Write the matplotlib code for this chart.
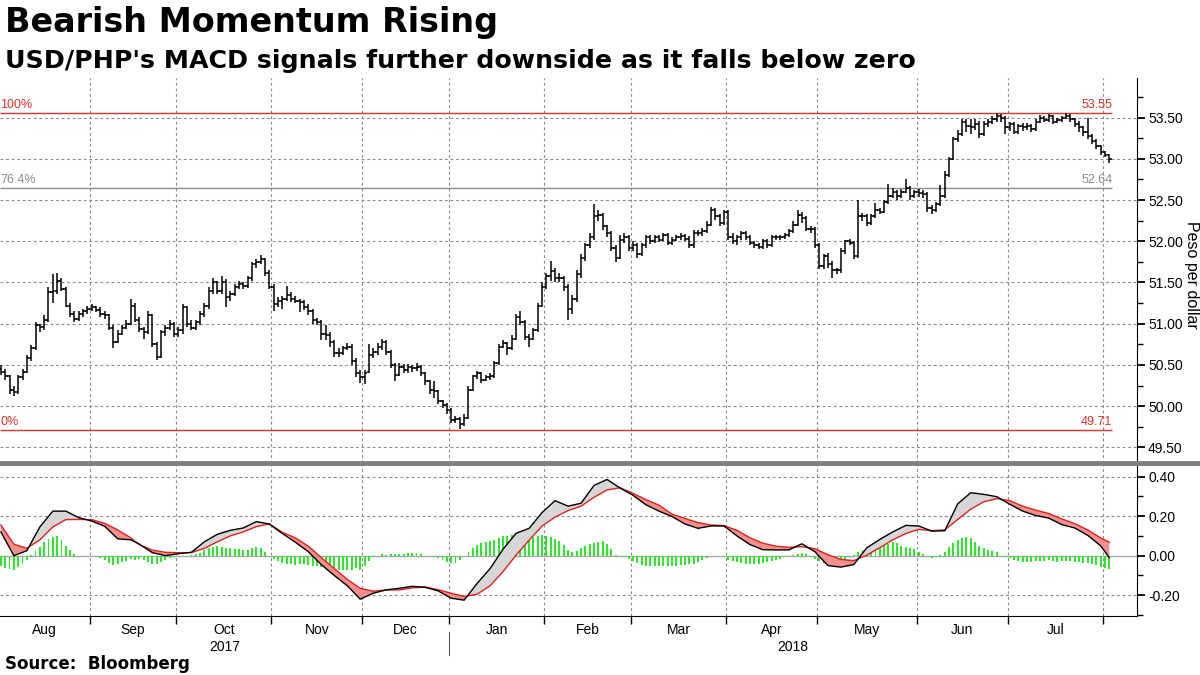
import numpy as np
import pandas as pd
import matplotlib
matplotlib.use("Agg")
import matplotlib.pyplot as plt
from matplotlib.lines import Line2D
from matplotlib.ticker import MultipleLocator, FormatStrFormatter

plt.rcParams['font.family'] = ['Liberation Sans', 'DejaVu Sans']
TITLE_FONT = ['DejaVu Sans']

# ---------------- data ----------------
start_date = '2017-08-03'
end_date = '2018-08-02'
holidays = ['2017-09-04', '2017-11-23', '2017-12-25', '2018-01-01']

closes = [
    50.42, 50.36, 50.20, 50.17, 50.35, 50.42, 50.58, 50.70, 50.98, 50.96, 51.05, 51.38, 51.40, 51.52, 51.42, 51.22, 51.12, 51.06, 51.12, 51.15, 51.18,
    51.20, 51.17, 51.12, 51.10, 50.95, 50.78, 50.88, 50.95, 51.00, 51.22, 51.05, 50.93, 50.90, 51.10, 50.75, 50.60, 50.90, 50.95, 51.00, 50.88,
    50.92, 51.20, 51.00, 50.95, 51.02, 51.12, 51.22, 51.40, 51.50, 51.40, 51.50, 51.32, 51.36, 51.45, 51.48, 51.46, 51.55, 51.72, 51.75, 51.78, 51.62, 51.45,
    51.24, 51.28, 51.30, 51.35, 51.30, 51.28, 51.26, 51.20, 51.15, 51.04, 51.02, 50.88, 50.86, 50.78, 50.65, 50.65, 50.70, 50.72, 50.55, 50.40, 50.35,
    50.40, 50.62, 50.66, 50.72, 50.78, 50.66, 50.50, 50.38, 50.48, 50.44, 50.48, 50.46, 50.48, 50.40, 50.30, 50.20, 50.18, 50.06, 50.02, 49.95,
    49.83, 49.84, 49.78, 49.86, 50.20, 50.36, 50.40, 50.32, 50.35, 50.36, 50.52, 50.72, 50.76, 50.70, 50.82, 51.08, 51.02, 50.84, 50.82, 50.92, 51.22, 51.45,
    51.58, 51.64, 51.55, 51.56, 51.45, 51.18, 51.30, 51.60, 51.80, 51.95, 52.05, 52.30, 52.32, 52.18, 52.10, 51.92, 51.80, 52.02, 52.05, 51.92,
    51.95, 51.85, 51.95, 52.05, 52.00, 52.05, 52.02, 52.08, 51.98, 52.02, 52.05, 52.06, 52.03, 51.95, 52.10, 52.10, 52.12, 52.20, 52.38, 52.30, 52.22, 52.35,
    52.05, 52.00, 52.05, 52.10, 52.05, 51.98, 51.95, 51.93, 52.00, 51.95, 52.05, 52.05, 52.05, 52.08, 52.12, 52.20, 52.32, 52.28, 52.15, 52.15, 51.95,
    51.70, 51.82, 51.72, 51.65, 51.65, 51.88, 52.00, 51.98, 51.82, 52.30, 52.30, 52.22, 52.30, 52.38, 52.36, 52.48, 52.55, 52.60, 52.55, 52.60, 52.65, 52.55, 52.60,
    52.58, 52.57, 52.40, 52.38, 52.45, 52.55, 52.80, 53.00, 53.24, 53.30, 53.45, 53.40, 53.38, 53.42, 53.30, 53.42, 53.45, 53.48, 53.52, 53.50, 53.38,
    53.42, 53.33, 53.40, 53.38, 53.40, 53.36, 53.45, 53.50, 53.47, 53.52, 53.45, 53.47, 53.50, 53.52, 53.48, 53.42, 53.38, 53.32, 53.28, 53.22, 53.15, 53.08,
    53.05, 53.00,
]

opens = [
    50.45, 50.42, 50.36, 50.20, 50.17, 50.35, 50.42, 50.58, 50.70, 50.98, 50.96, 51.05, 51.38, 51.40, 51.52, 51.42, 51.22, 51.12, 51.06, 51.12, 51.15,
    51.18, 51.20, 51.17, 51.12, 51.10, 50.95, 50.78, 50.88, 50.95, 51.00, 51.22, 51.05, 50.93, 50.90, 51.10, 50.75, 50.60, 50.90, 50.95, 51.00,
    50.88, 50.92, 51.20, 51.00, 50.95, 51.02, 51.12, 51.22, 51.40, 51.50, 51.40, 51.50, 51.32, 51.36, 51.45, 51.48, 51.46, 51.55, 51.72, 51.75, 51.78, 51.62,
    51.45, 51.24, 51.28, 51.30, 51.35, 51.30, 51.28, 51.26, 51.20, 51.15, 51.04, 51.02, 50.88, 50.86, 50.78, 50.65, 50.65, 50.70, 50.72, 50.55, 50.40,
    50.35, 50.42, 50.62, 50.66, 50.72, 50.78, 50.66, 50.50, 50.38, 50.48, 50.44, 50.48, 50.46, 50.48, 50.40, 50.30, 50.20, 50.18, 50.06, 50.02,
    49.95, 49.83, 49.84, 49.78, 49.86, 50.20, 50.36, 50.40, 50.32, 50.35, 50.36, 50.52, 50.72, 50.76, 50.70, 50.82, 51.08, 51.02, 50.84, 50.82, 50.92, 51.22,
    51.45, 51.58, 51.64, 51.55, 51.56, 51.45, 51.18, 51.30, 51.60, 51.80, 51.95, 52.05, 52.30, 52.32, 52.18, 52.10, 51.92, 51.80, 52.02, 52.05,
    51.92, 51.95, 51.85, 51.95, 52.05, 52.00, 52.05, 52.02, 52.08, 51.98, 52.02, 52.05, 52.06, 52.03, 51.95, 52.10, 52.10, 52.12, 52.20, 52.38, 52.30, 52.22,
    52.35, 52.05, 52.00, 52.05, 52.10, 52.05, 51.98, 51.95, 51.93, 52.00, 51.95, 52.05, 52.05, 52.05, 52.08, 52.12, 52.20, 52.32, 52.28, 52.15, 52.15,
    51.95, 51.70, 51.82, 51.72, 51.65, 51.65, 51.88, 52.00, 51.98, 51.82, 52.30, 52.30, 52.22, 52.30, 52.38, 52.36, 52.48, 52.55, 52.60, 52.55, 52.60, 52.65, 52.55,
    52.60, 52.58, 52.57, 52.40, 52.38, 52.45, 52.55, 52.80, 53.00, 53.24, 53.30, 53.45, 53.40, 53.38, 53.42, 53.30, 53.42, 53.45, 53.48, 53.52, 53.50,
    53.38, 53.42, 53.33, 53.40, 53.38, 53.40, 53.36, 53.45, 53.50, 53.47, 53.52, 53.45, 53.47, 53.50, 53.52, 53.48, 53.42, 53.38, 53.32, 53.28, 53.22, 53.15,
    53.08, 53.05,
]

highs = [
    50.50, 50.45, 50.38, 50.24, 50.38, 50.45, 50.62, 50.74, 51.02, 51.00, 51.10, 51.45, 51.60, 51.62, 51.55, 51.45, 51.25, 51.15, 51.15, 51.18, 51.22,
    51.24, 51.22, 51.20, 51.15, 51.12, 50.98, 50.92, 50.98, 51.04, 51.30, 51.25, 51.08, 50.96, 51.15, 51.12, 50.78, 50.92, 50.98, 51.05, 51.02,
    50.96, 51.24, 51.22, 51.04, 51.05, 51.15, 51.25, 51.44, 51.55, 51.52, 51.58, 51.54, 51.40, 51.48, 51.52, 51.50, 51.58, 51.75, 51.78, 51.83, 51.80, 51.65,
    51.48, 51.32, 51.33, 51.46, 51.38, 51.33, 51.30, 51.29, 51.24, 51.18, 51.07, 51.05, 50.98, 50.90, 50.80, 50.70, 50.73, 50.76, 50.75, 50.58, 50.44,
    50.44, 50.75, 50.70, 50.76, 50.82, 50.80, 50.68, 50.52, 50.52, 50.51, 50.51, 50.50, 50.52, 50.50, 50.42, 50.32, 50.30, 50.20, 50.08, 50.04,
    49.98, 49.88, 49.87, 49.90, 50.25, 50.38, 50.43, 50.42, 50.38, 50.40, 50.55, 50.75, 50.80, 50.78, 50.86, 51.12, 51.15, 51.05, 50.88, 50.95, 51.25, 51.50,
    51.62, 51.76, 51.68, 51.62, 51.58, 51.48, 51.35, 51.65, 51.85, 51.98, 52.10, 52.45, 52.38, 52.34, 52.20, 52.12, 51.95, 52.08, 52.10, 52.08,
    52.00, 51.98, 51.98, 52.08, 52.08, 52.08, 52.08, 52.10, 52.10, 52.05, 52.08, 52.10, 52.09, 52.06, 52.14, 52.14, 52.16, 52.24, 52.42, 52.40, 52.33, 52.38,
    52.38, 52.10, 52.08, 52.12, 52.13, 52.08, 52.00, 51.98, 52.03, 52.03, 52.08, 52.08, 52.08, 52.10, 52.15, 52.24, 52.38, 52.36, 52.30, 52.18, 52.17,
    51.98, 51.85, 51.86, 51.76, 51.68, 51.92, 52.02, 52.03, 52.00, 52.50, 52.34, 52.33, 52.33, 52.46, 52.40, 52.50, 52.70, 52.65, 52.62, 52.63, 52.75, 52.67, 52.62,
    52.63, 52.62, 52.60, 52.44, 52.48, 52.68, 52.85, 53.02, 53.26, 53.35, 53.48, 53.48, 53.48, 53.48, 53.46, 53.46, 53.48, 53.52, 53.55, 53.54, 53.52,
    53.45, 53.45, 53.42, 53.43, 53.43, 53.42, 53.48, 53.53, 53.52, 53.54, 53.53, 53.49, 53.52, 53.55, 53.54, 53.50, 53.46, 53.40, 53.50, 53.30, 53.24, 53.17,
    53.10, 53.06,
]

lows = [
    50.38, 50.32, 50.15, 50.12, 50.15, 50.32, 50.40, 50.55, 50.68, 50.90, 50.92, 51.02, 51.25, 51.36, 51.40, 51.20, 51.08, 51.02, 51.03, 51.08, 51.12,
    51.15, 51.14, 51.08, 51.06, 50.92, 50.70, 50.76, 50.86, 50.93, 50.98, 51.02, 50.90, 50.82, 50.88, 50.72, 50.56, 50.58, 50.85, 50.92, 50.84,
    50.84, 50.88, 50.96, 50.92, 50.92, 50.98, 51.08, 51.18, 51.36, 51.36, 51.36, 51.20, 51.28, 51.33, 51.42, 51.42, 51.43, 51.52, 51.68, 51.72, 51.58, 51.42,
    51.15, 51.20, 51.18, 51.27, 51.26, 51.25, 51.14, 51.17, 51.10, 51.00, 50.98, 50.80, 50.80, 50.72, 50.60, 50.60, 50.62, 50.68, 50.50, 50.35, 50.28,
    50.27, 50.40, 50.58, 50.62, 50.68, 50.62, 50.46, 50.30, 50.36, 50.40, 50.40, 50.42, 50.43, 50.36, 50.26, 50.15, 50.10, 50.03, 49.98, 49.90,
    49.80, 49.80, 49.72, 49.76, 49.84, 50.18, 50.33, 50.28, 50.30, 50.32, 50.34, 50.50, 50.70, 50.62, 50.68, 50.80, 50.98, 50.80, 50.72, 50.80, 50.90, 51.20,
    51.42, 51.52, 51.50, 51.50, 51.40, 51.05, 51.12, 51.26, 51.56, 51.76, 51.92, 52.02, 52.24, 52.14, 52.05, 51.88, 51.75, 51.78, 51.98, 51.88,
    51.88, 51.80, 51.82, 51.92, 51.97, 51.98, 51.99, 52.00, 51.95, 51.96, 52.00, 52.02, 52.00, 51.92, 51.92, 52.06, 52.06, 52.10, 52.18, 52.26, 52.18, 52.20,
    52.02, 51.97, 51.96, 52.02, 52.02, 51.95, 51.92, 51.90, 51.90, 51.92, 51.93, 52.02, 52.02, 52.03, 52.05, 52.10, 52.18, 52.22, 52.12, 52.10, 51.92,
    51.66, 51.66, 51.68, 51.55, 51.60, 51.62, 51.85, 51.95, 51.78, 51.80, 52.25, 52.18, 52.20, 52.28, 52.33, 52.34, 52.45, 52.52, 52.50, 52.52, 52.58, 52.50, 52.52,
    52.54, 52.53, 52.36, 52.33, 52.36, 52.43, 52.53, 52.78, 52.98, 53.20, 53.28, 53.32, 53.30, 53.35, 53.25, 53.28, 53.38, 53.42, 53.45, 53.45, 53.30,
    53.34, 53.30, 53.30, 53.34, 53.35, 53.33, 53.34, 53.43, 53.44, 53.45, 53.42, 53.43, 53.45, 53.48, 53.44, 53.38, 53.33, 53.28, 53.24, 53.18, 53.12, 53.05,
    53.02, 52.95,
]

# MACD histogram (one value per trading day)
macd_hist = [
    -0.05, -0.06, -0.065, -0.07, -0.055, -0.04, -0.02, 0.005, 0.025, 0.045,
    0.07, 0.085, 0.095, 0.1, 0.08, 0.05, 0.03, 0.01, 0.0, 0.0,
    0.0, 0.0, -0.005, -0.01, -0.02, -0.035, -0.045, -0.04, -0.03, -0.025,
    -0.015, -0.02, -0.015, -0.02, -0.03, -0.04, -0.04, -0.03, -0.02,
    -0.01, -0.005, 0.0, 0.0, 0.0, 0.005, 0.01, 0.015, 0.03, 0.04,
    0.045, 0.05, 0.045, 0.04, 0.04, 0.035, 0.035, 0.03, 0.03, 0.04,
    0.045, 0.04, 0.02, 0.0, -0.015, -0.025, -0.035, -0.04, -0.04, -0.045,
    -0.04, -0.04, -0.045, -0.05, -0.05, -0.055, -0.06, -0.07, -0.07, -0.07,
    -0.07, -0.07, -0.07, -0.06, -0.07, -0.05, -0.025, -0.005, 0.0, 0.01,
    0.005, 0.01, 0.01, 0.01, 0.01, 0.015, 0.015, 0.015, 0.01, 0.0,
    0.0, -0.005, -0.01, -0.02, -0.03, -0.035, -0.035, -0.02, 0.0, 0.02,
    0.04, 0.055, 0.065, 0.07, 0.075, 0.08, 0.09, 0.1, 0.1, 0.105,
    0.11, 0.105, 0.1, 0.095, 0.095, 0.1, 0.105, 0.1, 0.095, 0.085,
    0.075, 0.055, 0.03, 0.02, 0.025, 0.04, 0.05, 0.06, 0.065, 0.07,
    0.075, 0.06, 0.035, 0.005, 0.0, -0.005, -0.015, -0.025, -0.035, -0.045,
    -0.05, -0.05, -0.05, -0.05, -0.05, -0.05, -0.05, -0.05, -0.045, -0.045,
    -0.04, -0.04, -0.03, -0.02, -0.01, 0.0, 0.0, 0.0, 0.0, -0.02,
    -0.025, -0.03, -0.035, -0.04, -0.04, -0.04, -0.04, -0.035, -0.03, -0.025,
    -0.02, -0.015, -0.005, 0.0, 0.005, 0.01, 0.015, 0.01, 0.0, -0.015,
    -0.025, -0.035, -0.04, -0.045, -0.045, -0.03, -0.02, -0.01, 0.005, 0.02,
    0.03, 0.045, 0.055, 0.06, 0.055, 0.05, 0.06, 0.07, 0.065, 0.05,
    0.045, 0.04, 0.035, 0.02, 0.01, 0.0, -0.01, -0.005, 0.005, 0.02,
    0.045, 0.065, 0.08, 0.09, 0.095, 0.09, 0.07, 0.05, 0.04, 0.03,
    0.025, 0.02, 0.0, -0.005, -0.01, -0.02, -0.025, -0.03, -0.03, -0.03,
    -0.025, -0.025, -0.025, -0.02, -0.025, -0.03, -0.025, -0.025, -0.025, -0.03,
    -0.03, -0.035, -0.035, -0.04, -0.045, -0.055, -0.06, -0.065,
]

# MACD and signal lines, read every third trading day (plus the last day)
line_idx = list(range(0, 31, 3)) + list(range(32, 255, 3)) + [256]
macd_line = [
    0.12, 0.0, 0.025, 0.145, 0.225, 0.225, 0.192, 0.175, 0.148, 0.085,
    0.08, 0.058, 0.015, 0.0, 0.01, 0.017, 0.07, 0.108, 0.128, 0.14,
    0.172, 0.16, 0.112, 0.068, 0.02, -0.045, -0.10, -0.152, -0.22, -0.19,
    -0.173, -0.165, -0.155, -0.16, -0.178, -0.215, -0.225, -0.14, -0.065, 0.033,
    0.113, 0.138, 0.218, 0.278, 0.25, 0.265, 0.355, 0.385, 0.342, 0.305,
    0.257, 0.225, 0.198, 0.16, 0.138, 0.15, 0.15, 0.10, 0.056, 0.03,
    0.029, 0.029, 0.06, 0.02, -0.05, -0.058, -0.045, 0.04, 0.082, 0.12,
    0.153, 0.15, 0.124, 0.126, 0.262, 0.318, 0.31, 0.298, 0.26, 0.225,
    0.203, 0.19, 0.157, 0.14, 0.103, 0.05, -0.01,
]
signal_line = [
    0.155, 0.058, 0.037, 0.08, 0.145, 0.182, 0.183, 0.182, 0.163, 0.13,
    0.09, 0.055, 0.028, 0.017, 0.015, 0.015, 0.037, 0.07, 0.10, 0.12,
    0.147, 0.16, 0.118, 0.09, 0.048, -0.01, -0.065, -0.12, -0.165, -0.18,
    -0.173, -0.173, -0.163, -0.158, -0.172, -0.19, -0.206, -0.195, -0.152, -0.08,
    0.003, 0.078, 0.15, 0.195, 0.228, 0.25, 0.295, 0.332, 0.343, 0.315,
    0.283, 0.255, 0.21, 0.188, 0.167, 0.155, 0.152, 0.128, 0.09, 0.063,
    0.048, 0.042, 0.045, 0.035, 0.005, -0.019, -0.025, 0.003, 0.04, 0.08,
    0.112, 0.133, 0.126, 0.13, 0.183, 0.235, 0.272, 0.288, 0.278, 0.25,
    0.23, 0.213, 0.186, 0.162, 0.13, 0.09, 0.068,
]

levels = [53.55, 52.64, 49.71]
level_pct = ['100%', '76.4%', '0%']
level_colors = ['#e0302c', '#8c8c8c', '#e0302c']

price_ticks = [49.5, 50.0, 50.5, 51.0, 51.5, 52.0, 52.5, 53.0, 53.5]
macd_ticks = [-0.2, 0.0, 0.2, 0.4]

# ---------------- build ----------------
dates = pd.bdate_range(start_date, end_date)
dates = dates[~dates.isin(pd.to_datetime(holidays))]
n = min(len(dates), len(closes), len(opens), len(highs), len(lows), len(macd_hist))
dates = dates[:n]
x = np.arange(n)
o = np.array(opens[:n]); h = np.array(highs[:n]); l = np.array(lows[:n]); c = np.array(closes[:n])
hist = np.array(macd_hist[:n])
m = min(len(line_idx), len(macd_line), len(signal_line))
lx = np.array(line_idx[:m]); ml = np.array(macd_line[:m]); sl = np.array(signal_line[:m])

XMIN, XMAX = -0.2, 262.4

fig = plt.figure(figsize=(12, 6.75), dpi=100)
ax1 = fig.add_axes([0.0, 0.314, 0.9475, 0.5705])
ax2 = fig.add_axes([0.0, 0.0874, 0.9475, 0.2266])

grid_kw = dict(color='#8a8a8a', lw=0.8, ls=(0, (2.5, 2.5)))

# month boundaries
bounds = [i - 0.5 for i in range(1, n) if dates[i].month != dates[i - 1].month]
edges = [XMIN] + bounds + [XMAX]
year_bound = [i - 0.5 for i in range(1, n) if dates[i].year != dates[i - 1].year][0]

for ax in (ax1, ax2):
    ax.set_xlim(XMIN, XMAX)
    for b in bounds:
        ax.axvline(b, zorder=0, **grid_kw)
    for s in ['left', 'top']:
        ax.spines[s].set_visible(False)
    ax.spines['right'].set_color('black')
    ax.yaxis.tick_right()
    ax.tick_params(axis='y', which='major', length=6, width=1.3, labelsize=10, pad=2)
    ax.tick_params(axis='y', which='minor', length=4, width=1.0)

# ---- price panel ----
ax1.set_ylim(49.31, 53.98)
for t in price_ticks:
    ax1.axhline(t, zorder=0, **grid_kw)
ax1.spines['bottom'].set_visible(False)
ax1.set_xticks([])
ax1.set_yticks(price_ticks)
ax1.yaxis.set_minor_locator(MultipleLocator(0.25))
ax1.yaxis.set_major_formatter(FormatStrFormatter('%.2f'))

ax1.vlines(x, l, h, color='black', lw=1.1, zorder=3)
ax1.hlines(o, x - 0.55, x, color='black', lw=1.1, zorder=3)
ax1.hlines(c, x, x + 0.55, color='black', lw=1.1, zorder=3)

line_end = n - 0.3
for lev, pct, col in zip(levels, level_pct, level_colors):
    ax1.hlines(lev, XMIN, line_end, color=col, lw=1.0, zorder=2)
    ax1.text(XMIN + 0.05, lev + 0.03, pct, color=col, fontsize=9, ha='left', va='bottom')
    ax1.text(line_end, lev + 0.03, f'{lev:.2f}', color=col, fontsize=9, ha='right', va='bottom')

fig.text(1191 / 1200, 1 - 275 / 675, 'Peso per dollar', rotation=-90, fontsize=11.5,
         ha='center', va='center')

# ---- MACD panel ----
ax2.set_ylim(-0.305, 0.468)
for t in [-0.2, 0.2, 0.4]:
    ax2.axhline(t, zorder=0, **grid_kw)
ax2.axhline(0.0, color='#a8a8a8', lw=1.0, zorder=1)
ax2.set_yticks(macd_ticks)
ax2.yaxis.set_minor_locator(MultipleLocator(0.1))
ax2.yaxis.set_major_formatter(FormatStrFormatter('%.2f'))

ax2.bar(x, hist, width=0.45, color='#2ee62e', zorder=2, linewidth=0)
ax2.fill_between(lx, ml, sl, where=ml >= sl, interpolate=True, color='#d6d6d6', zorder=3, lw=0)
ax2.fill_between(lx, ml, sl, where=ml < sl, interpolate=True, color='#f29090', zorder=3, lw=0)
ax2.plot(lx, sl, color='#e0201c', lw=1.0, zorder=4)
ax2.plot(lx, ml, color='black', lw=1.0, zorder=5)

# x axis: ticks at month boundaries, labels centred in month
ax2.set_xticks(bounds)
ax2.set_xticklabels([])
ax2.tick_params(axis='x', which='major', length=6, width=1.0, direction='out')
ax2.spines['bottom'].set_color('black')
for a, b in zip(edges[:-1], edges[1:]):
    if b - a < 12:
        continue
    mid_i = int(np.clip(np.ceil((a + b) / 2), 0, n - 1))
    ax2.text((a + b) / 2, -0.09, dates[mid_i].strftime('%b'), transform=ax2.get_xaxis_transform(),
             ha='center', va='center', fontsize=10)
ax2.text((XMIN + year_bound) / 2, -0.205, '2017', transform=ax2.get_xaxis_transform(),
         ha='center', va='center', fontsize=10)
ax2.text((year_bound + XMAX) / 2, -0.205, '2018', transform=ax2.get_xaxis_transform(),
         ha='center', va='center', fontsize=10)
ax2.plot([year_bound, year_bound], [-0.105, -0.255], transform=ax2.get_xaxis_transform(),
         color='#555555', lw=0.8, clip_on=False)

# separator bar between panels
fig.add_artist(Line2D([0, 1], [0.314, 0.314], transform=fig.transFigure, color='#7f7f7f', lw=3.5))

# titles
fig.text(0.004, 0.966, 'Bearish Momentum Rising', fontsize=24, fontweight='bold',
         ha='left', va='center', family=TITLE_FONT)
fig.text(0.004, 0.910, "USD/PHP's MACD signals further downside as it falls below zero",
         fontsize=18.2, fontweight='bold', ha='left', va='center', family=TITLE_FONT)
fig.text(0.004, 0.017, 'Source:  Bloomberg', fontsize=12, fontweight='bold',
         ha='left', va='center', family=TITLE_FONT)

fig.savefig('out.png', dpi=100, facecolor='white')
